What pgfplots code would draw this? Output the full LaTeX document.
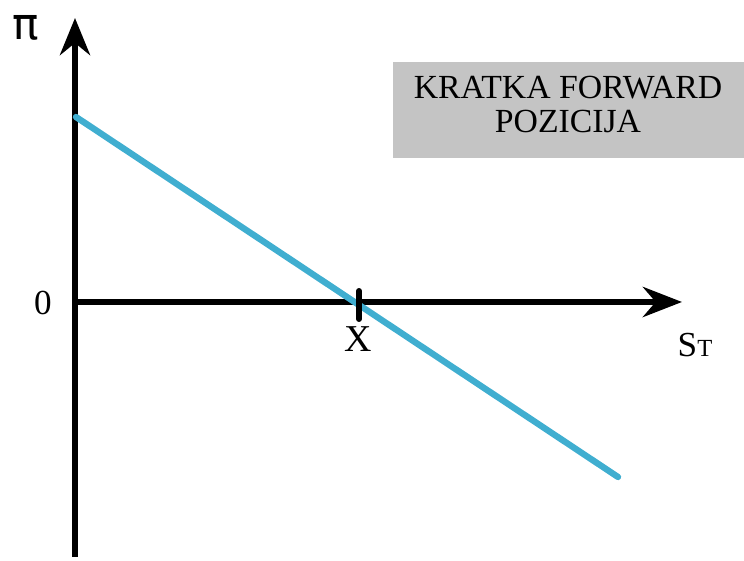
\documentclass[border=0pt]{standalone}
\usepackage{pgfplots}
\pgfplotsset{compat=1.18}
\usepackage{fontspec}
\setmainfont{Liberation Serif}
\newfontfamily\dejavu{DejaVu Sans}
\usetikzlibrary{arrows.meta}
\definecolor{payoff}{RGB}{64,174,208}
\definecolor{boxgray}{RGB}{196,196,196}
\begin{document}
\begin{tikzpicture}
\begin{axis}[
    width=7.44cm, height=5.57cm, scale only axis,
    xmin=0, xmax=744, ymin=0, ymax=557,
    axis lines=none, clip=false,
]
% frame extent (invisible)
\addplot[draw=none] coordinates {(0,0) (744,557)};
% label box
\fill[boxgray] (axis cs:393,399) rectangle (axis cs:744,495);
\node[anchor=base, font=\fontsize{9.6}{11}\selectfont] at (axis cs:568,458) {KRATKA FORWARD};
\node[anchor=base, font=\fontsize{9.6}{11}\selectfont] at (axis cs:568,424) {POZICIJA};
% axes with arrows
\addplot[black, line width=1.85pt, -{Stealth[length=0.37cm, width=0.30cm]}]
    coordinates {(75,0) (75,539)};
\addplot[black, line width=1.85pt, -{Stealth[length=0.39cm, width=0.30cm]}]
    coordinates {(72,255) (682,255)};
% payoff of short forward
\addplot[payoff, line width=1.8pt, line cap=round]
    coordinates {(76,440) (618,80)};
% strike tick
\addplot[black, line width=1.7pt, line cap=round]
    coordinates {(359,266) (359,238)};
% labels
\node[anchor=base west, font=\dejavu\fontsize{12.5}{14}\selectfont, inner sep=0pt] at (axis cs:12,517) {π};
\node[anchor=base, font=\fontsize{10}{12}\selectfont, inner sep=0pt] at (axis cs:43,242) {0};
\node[anchor=base, font=\fontsize{10.8}{12}\selectfont, inner sep=0pt] at (axis cs:358,205) {X};
\node[anchor=base west, font=\fontsize{10}{12}\selectfont, inner sep=0pt] at (axis cs:677,200) {S{\fontsize{7}{8}\selectfont T}};
\end{axis}
\end{tikzpicture}
\end{document}
